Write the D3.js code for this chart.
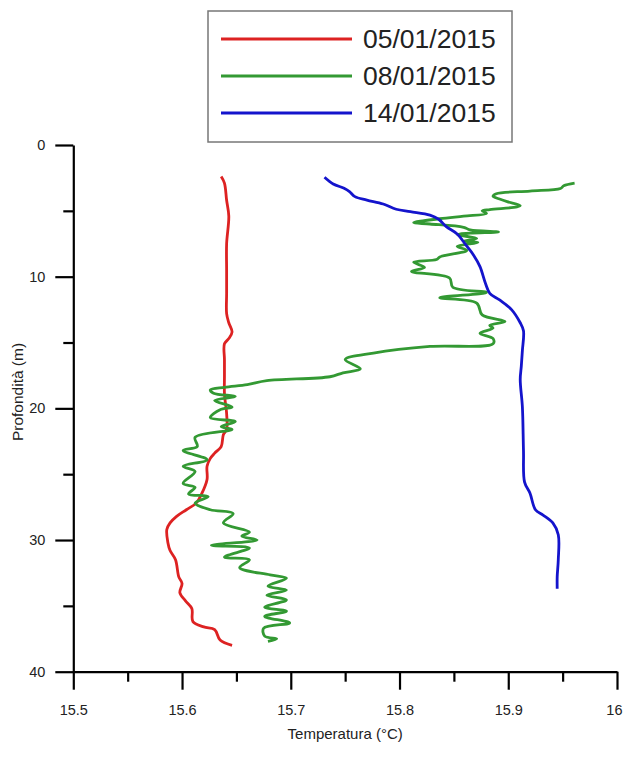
<!DOCTYPE html>
<html>
<head>
<meta charset="utf-8">
<script src="https://cdn.jsdelivr.net/npm/d3@7"></script>
<style>
  body { margin: 0; background: #fff; }
  text { font-family: "Liberation Sans", Arial, sans-serif; fill: #222; }
</style>
</head>
<body>
<svg id="chart" width="624" height="759"></svg>
<script>
// series: depth (m) and temperature (°C)
var dates = ["05/01/2015", "08/01/2015", "14/01/2015"];
var colors = ["#dd2222", "#339933", "#1414cc"];

var depth0501 = [2.4, 2.9, 4.2, 5.4, 7.5, 9.5, 11.3, 12.8, 13.5, 14.2, 14.7, 15.1, 16.3, 17.6, 18.9, 20.4, 21.6, 22.0, 22.9, 23.4, 23.8, 24.4, 25.4, 26.5, 27.2, 27.7, 28.2, 28.7, 29.2, 30.2, 30.8, 31.5, 32.8, 33.3, 34.0, 34.6, 35.2, 36.2, 36.6, 36.8, 37.6, 38.0];
var temp0501  = [15.636, 15.639, 15.641, 15.643, 15.641, 15.641, 15.641, 15.641, 15.643, 15.646, 15.643, 15.639, 15.639, 15.639, 15.639, 15.641, 15.641, 15.638, 15.636, 15.630, 15.626, 15.623, 15.623, 15.618, 15.613, 15.604, 15.595, 15.589, 15.586, 15.587, 15.589, 15.594, 15.597, 15.600, 15.598, 15.603, 15.609, 15.610, 15.620, 15.630, 15.635, 15.646];

var depth0801 = [2.9, 3.1, 3.3, 3.5, 3.7, 3.9, 4.1, 4.3, 4.6, 4.7, 4.9, 5.0, 5.2, 5.4, 5.6, 5.9, 6.0, 6.25, 6.45, 6.6, 6.7, 6.8, 7.1, 7.3, 7.4, 7.7, 8.0, 8.5, 8.7, 8.9, 9.3, 9.6, 10.1, 10.8, 11.2, 11.6, 12.0, 12.9, 13.4, 13.7, 13.9, 14.3, 14.7, 15.1, 15.3, 15.8, 16.3, 17.0, 17.3, 17.6, 17.9, 18.2, 18.4, 18.6, 18.85, 19.1, 19.4, 19.9, 20.1, 20.7, 21.0, 21.4, 21.6, 22.2, 22.9, 23.2, 23.9, 24.4, 24.8, 25.7, 26.0, 26.5, 26.7, 27.2, 27.7, 28.0, 28.7, 29.4, 29.7, 30.0, 30.4, 30.6, 31.3, 31.5, 32.1, 32.65, 32.9, 33.5, 33.8, 34.2, 34.55, 35.1, 35.4, 35.8, 36.3, 36.7, 37.3, 37.5, 37.7];
var temp0801  = [15.961, 15.951, 15.948, 15.920, 15.889, 15.886, 15.892, 15.899, 15.911, 15.908, 15.883, 15.876, 15.880, 15.859, 15.837, 15.813, 15.828, 15.859, 15.865, 15.891, 15.865, 15.853, 15.871, 15.859, 15.872, 15.853, 15.862, 15.837, 15.834, 15.813, 15.823, 15.811, 15.846, 15.849, 15.880, 15.837, 15.871, 15.876, 15.897, 15.883, 15.886, 15.874, 15.886, 15.886, 15.828, 15.776, 15.750, 15.764, 15.748, 15.736, 15.678, 15.660, 15.639, 15.626, 15.629, 15.649, 15.630, 15.646, 15.635, 15.626, 15.649, 15.636, 15.646, 15.612, 15.614, 15.601, 15.623, 15.601, 15.612, 15.601, 15.612, 15.606, 15.624, 15.612, 15.626, 15.647, 15.638, 15.662, 15.655, 15.669, 15.627, 15.662, 15.639, 15.662, 15.653, 15.681, 15.696, 15.679, 15.696, 15.678, 15.696, 15.676, 15.696, 15.676, 15.699, 15.675, 15.676, 15.687, 15.679];

var depth1401 = [2.45, 2.96, 3.29, 3.54, 3.92, 4.18, 4.48, 4.88, 5.06, 5.32, 5.64, 6.2, 6.76, 7.59, 8.35, 9.24, 10.5, 11.26, 11.77, 12.5, 13.5, 14.1, 15.6, 16.8, 17.8, 19.9, 23.2, 25.6, 26.45, 27.7, 28.1, 28.7, 29.6, 31.5, 32.8, 33.7];
var temp1401  = [15.731, 15.739, 15.749, 15.754, 15.759, 15.770, 15.785, 15.797, 15.810, 15.828, 15.836, 15.843, 15.853, 15.861, 15.868, 15.874, 15.879, 15.883, 15.892, 15.903, 15.911, 15.914, 15.913, 15.912, 15.911, 15.913, 15.914, 15.915, 15.920, 15.925, 15.932, 15.941, 15.946, 15.946, 15.945, 15.945];

var xMajor = [15.5, 15.6, 15.7, 15.8, 15.9, 16];
var xMinor = [15.55, 15.65, 15.75, 15.85, 15.95];
var yMajor = [0, 10, 20, 30, 40];
var yMinor = [5, 15, 25, 35];

var series = [
  { name: dates[0], color: colors[0], depth: depth0501, temp: temp0501 },
  { name: dates[1], color: colors[1], depth: depth0801, temp: temp0801 },
  { name: dates[2], color: colors[2], depth: depth1401, temp: temp1401 }
];

var svg = d3.select("#chart");

var x = d3.scaleLinear().domain([15.5, 16]).range([73.3, 617]);
var y = d3.scaleLinear().domain([0, 40]).range([145, 671.7]);

var fmt = function(d) { return String(+d.toFixed(2)); };

// y axis
var gy = svg.append("g").attr("transform", "translate(" + x(15.5) + ",0)");
gy.call(d3.axisLeft(y).tickValues(yMajor).tickFormat(fmt).tickSize(18).tickSizeOuter(0).tickPadding(10));
gy.append("g").call(d3.axisLeft(y).tickValues(yMinor).tickFormat("").tickSize(10).tickSizeOuter(0))
  .select(".domain").remove();

// x axis
var gx = svg.append("g").attr("transform", "translate(0," + y(40) + ")");
gx.call(d3.axisBottom(x).tickValues(xMajor).tickFormat(fmt).tickSize(18).tickSizeOuter(0).tickPadding(15));
gx.append("g").call(d3.axisBottom(x).tickValues(xMinor).tickFormat("").tickSize(10).tickSizeOuter(0))
  .select(".domain").remove();

// last label sits against the right edge, keep it inside
gx.selectAll(".tick text").filter(function(d) { return d === 16; })
  .attr("text-anchor", "end").attr("dx", 5);

svg.selectAll(".domain, .tick line").attr("stroke", "#000").attr("stroke-width", 2.2);
svg.selectAll(".tick text").attr("font-size", 14.5).attr("fill", "#333")
  .style("font-family", "'Liberation Sans', Arial, sans-serif");

svg.append("text")
  .attr("x", (x(15.5) + x(16)) / 2).attr("y", 739)
  .attr("text-anchor", "middle").attr("font-size", 15)
  .attr("fill", "#333")
  .text("Temperatura (°C)");

svg.append("text")
  .attr("transform", "translate(23,392) rotate(-90)")
  .attr("text-anchor", "middle").attr("font-size", 15.5)
  .attr("fill", "#333")
  .text("Profondità (m)");

// profiles
var line = d3.line()
  .x(function(d) { return x(d[1]); })
  .y(function(d) { return y(d[0]); })
  .curve(d3.curveCatmullRom.alpha(0.5));

series.forEach(function(s) {
  svg.append("path")
    .datum(d3.zip(s.depth, s.temp))
    .attr("fill", "none")
    .attr("stroke", s.color)
    .attr("stroke-width", 2.8)
    .attr("stroke-linejoin", "round")
    .attr("d", line);
});

// legend
var legend = svg.append("g");
legend.append("rect")
  .attr("x", 208).attr("y", 11).attr("width", 304).attr("height", 131)
  .attr("fill", "#fff").attr("stroke", "#777").attr("stroke-width", 1.5);

series.forEach(function(s, i) {
  var ly = 39 + i * 37;
  legend.append("line")
    .attr("x1", 221).attr("x2", 352).attr("y1", ly).attr("y2", ly)
    .attr("stroke", s.color).attr("stroke-width", 2.8);
  legend.append("text")
    .attr("x", 363).attr("y", ly + 9)
    .attr("font-size", 26.5)
    .text(s.name);
});
</script>
</body>
</html>
